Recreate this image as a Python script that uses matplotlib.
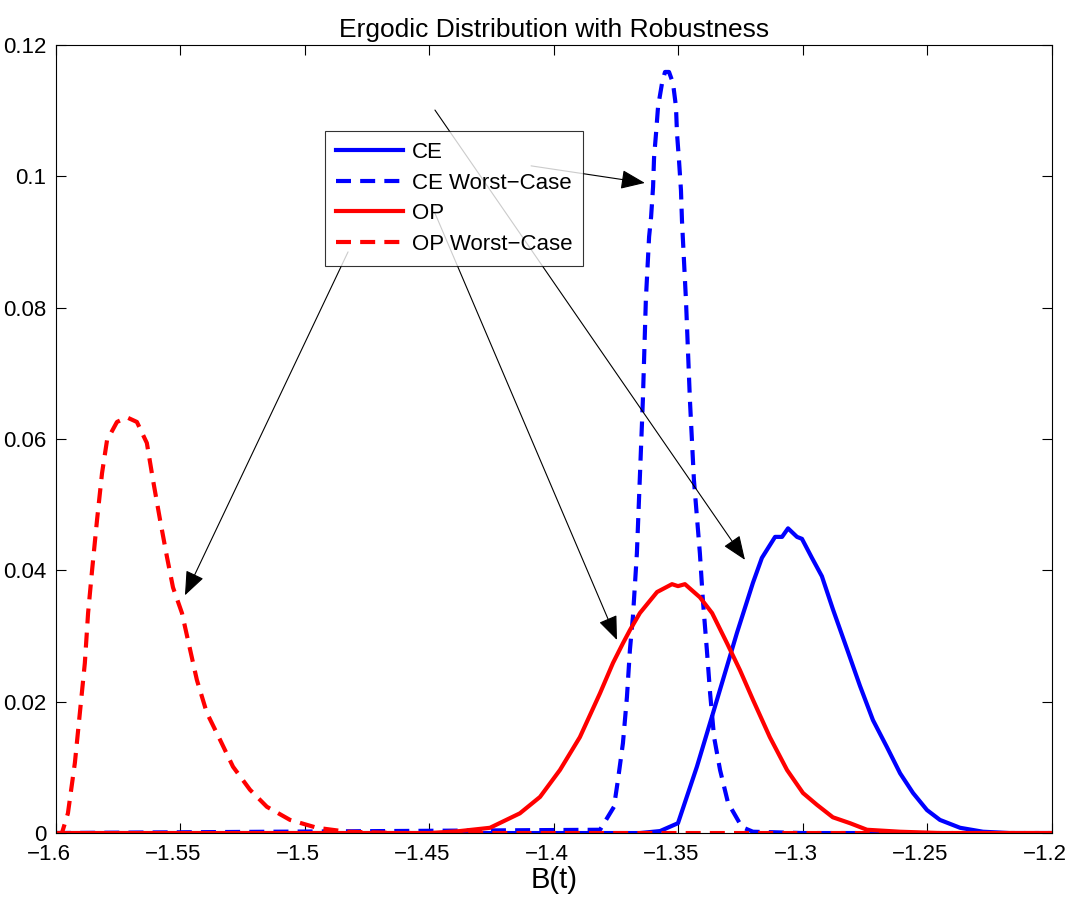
import matplotlib
matplotlib.use('Agg')
import matplotlib.pyplot as plt
import matplotlib.transforms as mtransforms

plt.rcParams['font.family'] = ['Liberation Sans', 'DejaVu Sans']
plt.rcParams['axes.unicode_minus'] = True

# values
ce_x = [-1.6, -1.3655, -1.3574, -1.3502, -1.3426, -1.3361, -1.3313, -1.3265, -1.3201,
        -1.3165, -1.3112, -1.3084, -1.306, -1.3024, -1.3004, -1.2964, -1.2924, -1.288,
        -1.2823, -1.2771, -1.2719, -1.2663, -1.261, -1.2558, -1.2502, -1.245, -1.2369,
        -1.2277, -1.2169, -1.2]
ce_y = [0, 0, 0.0003, 0.0015, 0.0101, 0.0183, 0.0244, 0.0305, 0.0381,
        0.0419, 0.0451, 0.0451, 0.0464, 0.0451, 0.0448, 0.0419, 0.0391, 0.0341,
        0.028, 0.0224, 0.0172, 0.0131, 0.0091, 0.0061, 0.0035, 0.002, 0.0008,
        0.0002, 0, 0]

cewc_x = [-1.6, -1.3815, -1.3759, -1.3743, -1.3723, -1.3707, -1.3695, -1.3683, -1.3667,
          -1.3643, -1.3631, -1.3618, -1.361, -1.3602, -1.3598, -1.359, -1.3582, -1.3566,
          -1.3554, -1.3538, -1.3522, -1.351, -1.3506, -1.3498, -1.349, -1.3486, -1.347,
          -1.3454, -1.3438, -1.3414, -1.3402, -1.3386, -1.3373, -1.3357, -1.3333, -1.3301,
          -1.3245, -1.3201, -1.3, -1.2]
cewc_y = [0, 0.0005, 0.004, 0.0081, 0.0137, 0.0207, 0.0279, 0.0329, 0.0426,
          0.0659, 0.0812, 0.0908, 0.0938, 0.0984, 0.1029, 0.1066, 0.1106, 0.1142,
          0.1159, 0.1159, 0.1142, 0.1106, 0.1066, 0.1025, 0.0979, 0.0933, 0.0812,
          0.0659, 0.0538, 0.0426, 0.0355, 0.0279, 0.0213, 0.0146, 0.0096, 0.0046,
          0.0009, 0.0002, 0, 0]

op_x = [-1.6, -1.4498, -1.4378, -1.4257, -1.4137, -1.4056, -1.3976, -1.3896, -1.3815,
        -1.3763, -1.3723, -1.3695, -1.3655, -1.3586, -1.3526, -1.3502, -1.3474, -1.3414,
        -1.3365, -1.3305, -1.3253, -1.3201, -1.3133, -1.3064, -1.3, -1.2944, -1.288,
        -1.2811, -1.2743, -1.261, -1.245, -1.2]
op_y = [0, 0, 0.0003, 0.0008, 0.003, 0.0055, 0.0096, 0.0146, 0.0213,
        0.0259, 0.0289, 0.0309, 0.0335, 0.0367, 0.0379, 0.0376, 0.0379, 0.0359,
        0.0335, 0.0289, 0.0248, 0.0203, 0.0146, 0.0096, 0.0061, 0.0043, 0.0024,
        0.0015, 0.0005, 0.0002, 0, 0]

opwc_x = [-1.6, -1.5976, -1.5952, -1.5924, -1.5904, -1.5884, -1.5871, -1.5855, -1.5835,
          -1.5815, -1.5795, -1.5755, -1.5715, -1.5675, -1.5635, -1.561, -1.5582, -1.5554,
          -1.553, -1.5494, -1.547, -1.5434, -1.5394, -1.5341, -1.5289, -1.5221, -1.5153,
          -1.506, -1.4952, -1.4831, -1.4618, -1.2]
opwc_y = [0, 0, 0.003, 0.0107, 0.0183, 0.0259, 0.0335, 0.04, 0.0477,
          0.0548, 0.0598, 0.0626, 0.0633, 0.0626, 0.0594, 0.0537, 0.0477, 0.042,
          0.0374, 0.0335, 0.0294, 0.0233, 0.0183, 0.0142, 0.0101, 0.0066, 0.004,
          0.002, 0.0008, 0.0002, 0, 0]

# arrows: (line start, arrow tip)
arrows = [((-1.4092, 0.1016), (-1.3635, 0.0990)),
          ((-1.4478, 0.1101), (-1.3233, 0.0416)),
          ((-1.4478, 0.0944), (-1.3747, 0.0294)),
          ((-1.4827, 0.0885), (-1.5482, 0.0362))]

xticks = [-1.6, -1.55, -1.5, -1.45, -1.4, -1.35, -1.3, -1.25, -1.2]
yticks = [0, 0.02, 0.04, 0.06, 0.08, 0.1, 0.12]

fig = plt.figure(figsize=(10.68, 8.97), dpi=100)
ax = fig.add_axes([0.0524, 0.0713, 0.9326, 0.8785])

dash = (0, (3.6, 2.2))
ax.plot(ce_x, ce_y, color='blue', lw=3, label='CE')
ax.plot(cewc_x, cewc_y, color='blue', lw=3, linestyle=dash, label='CE Worst\u2212Case')
ax.plot(op_x, op_y, color='red', lw=3, label='OP')
ax.plot(opwc_x, opwc_y, color='red', lw=3, linestyle=dash, label='OP Worst\u2212Case')

for start, tip in arrows:
    ax.annotate('', xy=tip, xytext=start,
                arrowprops=dict(arrowstyle='-|>,head_length=1.5,head_width=0.6',
                                color='black', lw=0.8, shrinkA=0, shrinkB=0))

ax.set_xlim(-1.6, -1.2)
ax.set_ylim(0, 0.12)
ax.set_xticks(xticks)
ax.set_xticklabels([('%g' % t).replace('-', '\u2212') for t in xticks])
ax.set_yticks(yticks)
ax.set_yticklabels(['%g' % t for t in yticks])
ax.tick_params(direction='in', length=7, width=0.8, top=True, right=True, labelsize=16)
ax.tick_params(axis='x', pad=8)
ax.tick_params(axis='y', pad=7)
# matlab puts the x labels a bit to the left of their ticks
shift = mtransforms.ScaledTranslation(-7 / 100, 0, fig.dpi_scale_trans)
for lab in ax.get_xticklabels():
    lab.set_transform(lab.get_transform() + shift)
for s in ax.spines.values():
    s.set_linewidth(0.8)

ax.set_title('Ergodic Distribution with Robustness', fontsize=19, pad=6)
ax.set_xlabel('B(t)', fontsize=21)
ax.xaxis.set_label_coords(0.5, -0.042)

leg = ax.legend(loc='upper left', bbox_to_anchor=(0.270, 0.891), fontsize=16,
                frameon=True, fancybox=False, edgecolor='black', handlelength=3.0,
                borderaxespad=0, labelspacing=0.43, handletextpad=0.4, borderpad=0.5)
leg.get_frame().set_linewidth(0.8)

plt.savefig('out.png', dpi=100)
